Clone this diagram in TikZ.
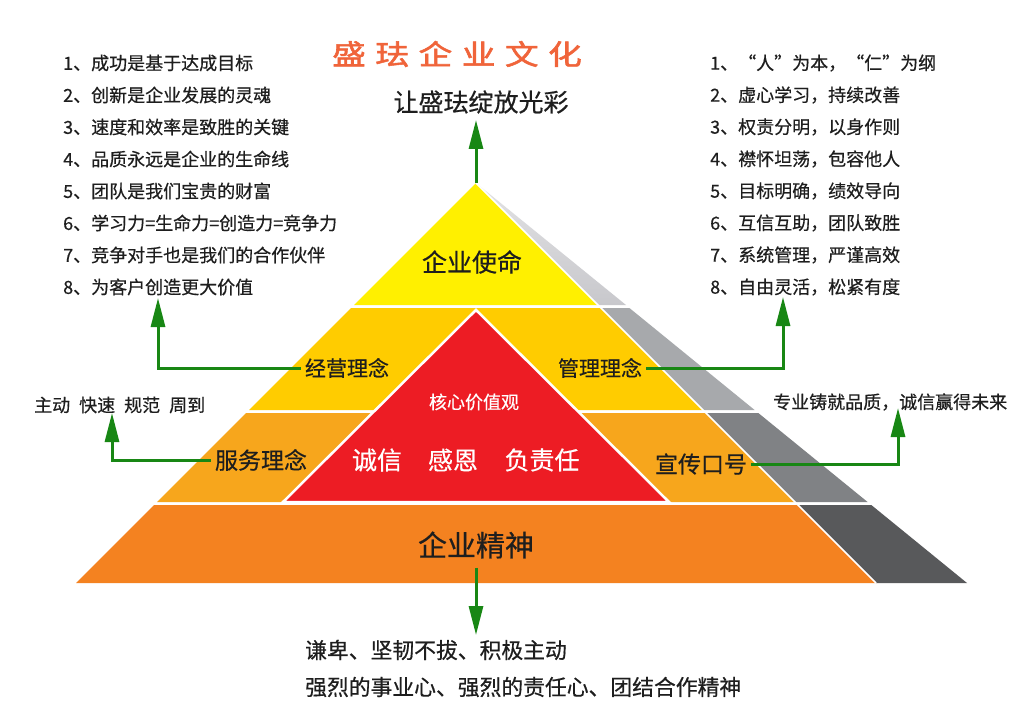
\documentclass[tikz,border=0pt]{standalone}
\usepackage{fontspec}
\setmainfont{Noto Sans CJK SC}
\newfontfamily\cjk[FakeBold=0.5]{Noto Sans CJK SC}
\newfontfamily\cjkbold[FakeBold=1.8]{Noto Sans CJK SC}
\usetikzlibrary{arrows.meta}
\newcommand\fsz[1]{\fontsize{#1}{#1}\selectfont}
\definecolor{lyA}{RGB}{255,240,0}
\definecolor{lyB}{RGB}{255,204,0}
\definecolor{lyC}{RGB}{247,166,28}
\definecolor{lyD}{RGB}{244,130,32}
\definecolor{redc}{RGB}{237,28,36}
\definecolor{shAa}{RGB}{226,226,228}
\definecolor{shA}{RGB}{200,200,204}
\definecolor{shB}{RGB}{167,169,172}
\definecolor{shC}{RGB}{128,130,133}
\definecolor{shD}{RGB}{88,89,91}
\definecolor{gr}{RGB}{24,135,20}
\definecolor{ttl}{RGB}{240,100,58}
\definecolor{ink}{RGB}{30,30,30}
\tikzset{
  txt/.style={inner sep=0pt, text=ink},
  li/.style={txt, anchor=west, font=\cjk\fsz{18}},
  lbl/.style={txt, font=\cjk\fsz{#1}},
  wlbl/.style={inner sep=0pt, text=white, font=\cjk\fsz{#1}},
  conn/.style={draw=gr, line width=3pt, -{Triangle[width=14pt,length=29pt]}},
}
\begin{document}
\begin{tikzpicture}[x=1pt,y=-1pt]
\fill[white] (0,0) rectangle (1035,722);
\useasboundingbox (0,0) rectangle (1035,722);

% shadows
\shade[top color=shAa, bottom color=shA] (476,183) -- (598,305) -- (626,305) -- cycle;
\fill[shB] (601,308) -- (703,410) -- (754.6,410) -- (629.4,308) -- cycle;
\fill[shC] (706,413) -- (795,502) -- (867.6,502) -- (758.3,413) -- cycle;
\fill[shD] (798,505) -- (876,583) -- (967,583) -- (871.3,505) -- cycle;

% coloured layers
\fill[lyA] (476,183) -- (354,305) -- (598,305) -- cycle;
\fill[lyB] (351,308) -- (249,410) -- (703,410) -- (601,308) -- cycle;
\fill[lyC] (246,413) -- (157,502) -- (795,502) -- (706,413) -- cycle;
\fill[lyD] (154,505) -- (76,583) -- (876,583) -- (798,505) -- cycle;
\draw[white, line width=1.5pt] (476,183) -- (876,583);

% red core triangle
\draw[white, line width=2.5pt, fill=redc] (476,310) -- (283,502) -- (669,502) -- cycle;

% title
\node[inner sep=0pt, text=ttl, font=\cjkbold\fsz{28}] (title) at (457,54)
  {\scalebox{1.2}[1]{盛\hspace{8pt}珐\hspace{8pt}企\hspace{8pt}业\hspace{8pt}文\hspace{8pt}化}};
\node[lbl=25] (sub) at (481,102) {让盛珐绽放光彩};

% left list
\node[li] (l1) at (63,63) {1、成功是基于达成目标};
\node[li] (l2) at (63,95) {2、创新是企业发展的灵魂};
\node[li] (l3) at (63,127) {3、速度和效率是致胜的关键};
\node[li] (l4) at (63,159) {4、品质永远是企业的生命线};
\node[li] (l5) at (63,191) {5、团队是我们宝贵的财富};
\node[li] (l6) at (63,223) {6、学习力=生命力=创造力=竞争力};
\node[li] (l7) at (63,255) {7、竞争对手也是我们的合作伙伴};
\node[li] (l8) at (63,287) {8、为客户创造更大价值};

% right list
\node[li] (r1) at (710,63) {1、“人”为本，“仁”为纲};
\node[li] (r2) at (710,95) {2、虚心学习，持续改善};
\node[li] (r3) at (710,127) {3、权责分明，以身作则};
\node[li] (r4) at (710,159) {4、襟怀坦荡，包容他人};
\node[li] (r5) at (710,191) {5、目标明确，绩效导向};
\node[li] (r6) at (710,223) {6、互信互助，团队致胜};
\node[li] (r7) at (710,255) {7、系统管理，严谨高效};
\node[li] (r8) at (710,287) {8、自由灵活，松紧有度};

% side texts
\node[li] (svc) at (34,405) {主动\hspace{9pt}快速\hspace{9pt}规范\hspace{9pt}周到};
\node[li] (slog) at (773,402) {专业铸就品质，诚信赢得未来};
\node[txt, anchor=west, font=\cjk\fsz{21.8}] (b1) at (305,650) {谦卑、坚韧不拔、积极主动};
\node[txt, anchor=west, font=\cjk\fsz{21.8}] (b2) at (305,687) {强烈的事业心、强烈的责任心、团结合作精神};

% pyramid labels
\node[lbl=25] (mis) at (472,262) {企业使命};
\node[lbl=21] (jy) at (347,368) {经营理念};
\node[lbl=21] (gl) at (600,368) {管理理念};
\node[lbl=23] (fw) at (261,460) {服务理念};
\node[lbl=23] (xc) at (701,464) {宣传口号};
\node[wlbl=18] (hx) at (474,402) {核心价值观};
\node[wlbl=25] (cx) at (377,460) {诚信};
\node[wlbl=25] (ge) at (453,460) {感恩};
\node[wlbl=25] (fz) at (542,460) {负责任};
\node[lbl=29] (qj) at (476,545) {企业精神};

% connector ends
\coordinate (apex) at (476,183);
\coordinate (tTop) at (476,120);
\coordinate (tJ) at (158,298);
\coordinate (tF) at (112,413);
\coordinate (tG) at (783,297);
\coordinate (tX) at (898,408);
\coordinate (tB) at (476,635);

% connectors
\draw[conn] (apex) -- (tTop);
\draw[conn] ([xshift=-4pt]jy.west) -| (tJ);
\draw[conn] ([xshift=-4pt]fw.west) -| (tF);
\draw[conn] ([xshift=4pt]gl.east) -| (tG);
\draw[conn] ([xshift=4pt]xc.east) -| (tX);
\draw[conn] ([yshift=-9pt]qj.south) -- (tB);
\end{tikzpicture}
\end{document}
